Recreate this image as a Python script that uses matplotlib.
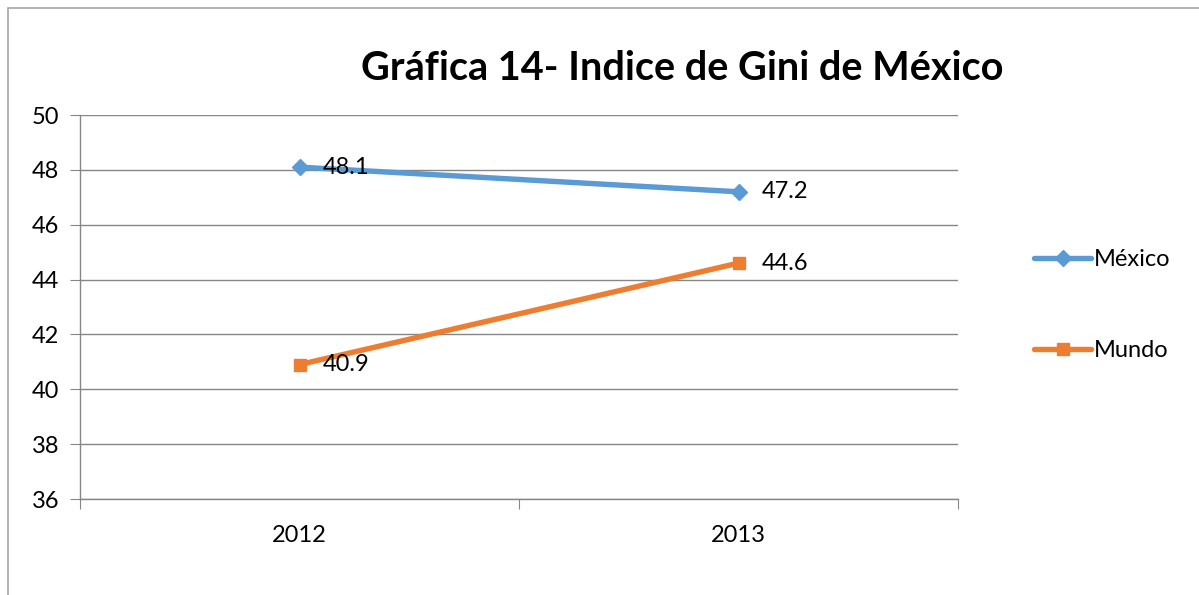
import matplotlib.pyplot as plt
from matplotlib.patches import Rectangle

# Data
years = ['2012', '2013']
mexico = [48.1, 47.2]
mundo = [40.9, 44.6]

plt.rcParams['font.family'] = ['Lato', 'DejaVu Sans']

blue = '#5B9BD5'
orange = '#ED7D31'
grey = '#868686'

fig = plt.figure(figsize=(11.99, 5.95), dpi=100)
ax = fig.add_axes([80 / 1199, 96 / 595, 878 / 1199, 384 / 595])

# outer chart border (only top/left visible in reference)
fig.patches.append(Rectangle((8 / 1199, -0.1), 1.2, (587 / 595) + 0.1,
                             transform=fig.transFigure, fill=False,
                             edgecolor='#A6A6A6', linewidth=1.2))

x = [0.5, 1.5]

ax.plot(x, mexico, color=blue, linewidth=3.9, marker='D', markersize=8,
        label='México', solid_capstyle='round')
ax.plot(x, mundo, color=orange, linewidth=3.9, marker='s', markersize=9,
        label='Mundo', solid_capstyle='round')

for xi, v in zip(x, mexico):
    ax.annotate(f'{v}', (xi, v), xytext=(17, 0), textcoords='offset points',
                va='center', ha='left', fontsize=17)
for xi, v in zip(x, mundo):
    ax.annotate(f'{v}', (xi, v), xytext=(17, 0), textcoords='offset points',
                va='center', ha='left', fontsize=17)

ax.set_xlim(0, 2)
ax.set_ylim(36, 50)
ax.set_yticks(range(36, 51, 2))
ax.set_xticks([0, 1, 2])
ax.set_xticklabels([])
ax.set_xticks(x, minor=True)
ax.set_xticklabels(years, minor=True, fontsize=17)
ax.tick_params(axis='x', which='minor', length=0, pad=19)
ax.tick_params(axis='x', which='major', length=7, color=grey, direction='out')
ax.tick_params(axis='y', length=7, color=grey, labelsize=17, pad=8)

ax.grid(axis='y', color=grey, linewidth=1)
ax.set_axisbelow(True)
for s in ['top', 'right']:
    ax.spines[s].set_visible(False)
for s in ['left', 'bottom']:
    ax.spines[s].set_color(grey)
    ax.spines[s].set_linewidth(1)

fig.text(682 / 1199, 1 - 68 / 595, 'Gráfica 14- Indice de Gini de México',
         fontsize=28.5, fontweight='bold', ha='center', va='center')

fig.legend(loc='upper left', bbox_to_anchor=(1025 / 1199, 1 - 240 / 595),
           frameon=False, fontsize=17, handlelength=2.4, handletextpad=0.1,
           labelspacing=2.95, borderaxespad=0)

fig.savefig('out.png', dpi=100)
